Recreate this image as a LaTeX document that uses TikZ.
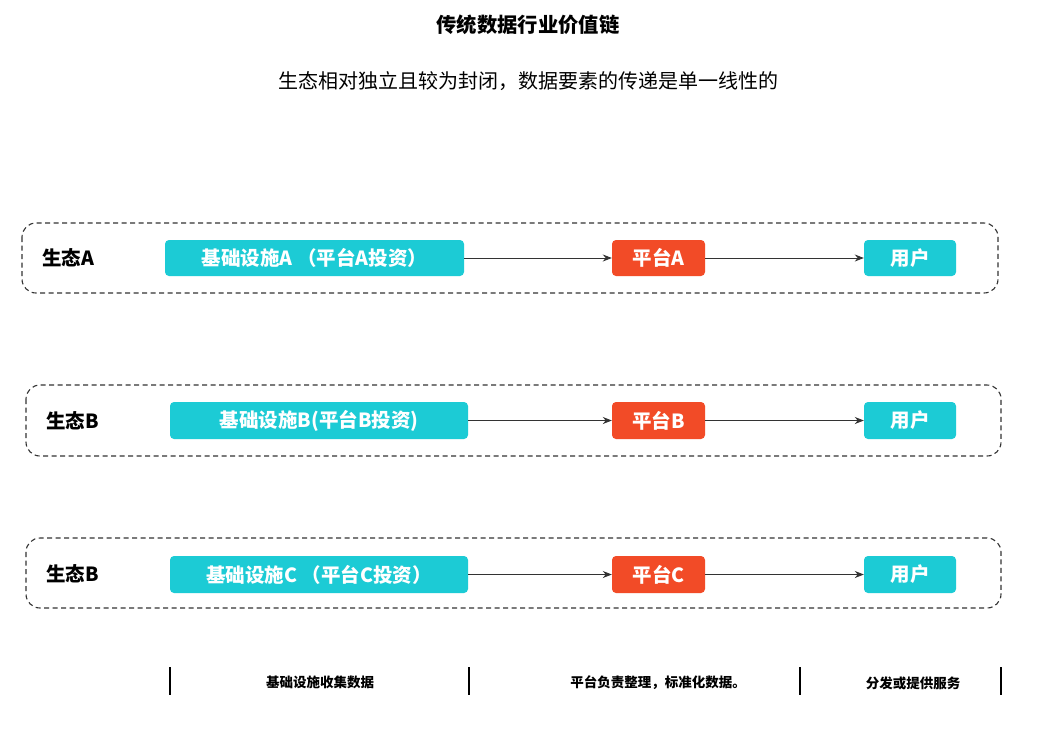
\documentclass[tikz,border=0pt]{standalone}
\usepackage{fontspec}
\setmainfont{Noto Sans CJK SC}
\usetikzlibrary{arrows.meta}
\definecolor{cyanbox}{HTML}{1CCBD5}
\definecolor{redbox}{HTML}{F24B27}
\definecolor{darkline}{HTML}{333333}
\tikzset{
  eco/.style={draw=darkline, dashed, dash pattern=on 5pt off 3.5pt, line width=1.1pt, rounded corners=14pt},
  infra/.style={fill=cyanbox, rounded corners=4pt, text=white, font=\fontsize{19.5}{22}\selectfont\bfseries, anchor=center, inner sep=0pt},
  plat/.style={fill=redbox, rounded corners=4pt, text=white, font=\fontsize{19.5}{22}\selectfont\bfseries, inner sep=0pt},
  ecolabel/.style={anchor=west, inner sep=0pt, font=\fontsize{19.5}{22}\selectfont\bfseries, text=black},
  flow/.style={draw=darkline, line width=0.9pt, -{Stealth[length=9pt,width=7pt]}},
  bar/.style={draw=black, line width=2pt},
  note/.style={font=\fontsize{13.5}{15}\selectfont\bfseries, text=black},
}
\begin{document}
\begin{tikzpicture}[x=1pt,y=-1pt]
\useasboundingbox (0,0) rectangle (1048,739);
\fill[white] (0,0) rectangle (1048,739);

\node[font=\fontsize{20.3}{23}\selectfont\bfseries] (title) at (528,25) {传统数据行业价值链};
\node[font=\fontsize{20}{23}\selectfont] (subtitle) at (528,81) {生态相对独立且较为封闭，数据要素的传递是单一线性的};

% Row A
\draw[eco] (22,223) rectangle (998,293);
\node[ecolabel] (la) at (42,258) {生态A};
\node[infra, minimum width=299pt, minimum height=36pt] (ia) at (314.5,258) {基础设施A （平台A投资）};
\node[plat, minimum width=93pt, minimum height=36pt] (pa) at (658.5,258) {平台A};
\node[infra, minimum width=92pt, minimum height=36pt] (ua) at (910,258) {用户};
\draw[flow] (ia) -- (pa);
\draw[flow] (pa) -- (ua);

% Row B
\draw[eco] (26,385) rectangle (1001,456);
\node[ecolabel] (lb) at (46,420.5) {生态B};
\node[infra, minimum width=298pt, minimum height=37pt] (ib) at (319,420.5) {基础设施B(平台B投资)};
\node[plat, minimum width=93pt, minimum height=37pt] (pb) at (658.5,420.5) {平台B};
\node[infra, minimum width=92pt, minimum height=37pt] (ub) at (910,420.5) {用户};
\draw[flow] (ib) -- (pb);
\draw[flow] (pb) -- (ub);

% Row C
\draw[eco] (26,538) rectangle (1001,608);
\node[ecolabel] (lc) at (46,574) {生态B};
\node[infra, minimum width=298pt, minimum height=37pt] (ic) at (319,574.5) {基础设施C （平台C投资）};
\node[plat, minimum width=93pt, minimum height=37pt] (pc) at (658.5,574.5) {平台C};
\node[infra, minimum width=92pt, minimum height=37pt] (uc) at (910,574.5) {用户};
\draw[flow] (ic) -- (pc);
\draw[flow] (pc) -- (uc);

% Bottom legend
\coordinate (b1t) at (170,667); \coordinate (b1b) at (170,695);
\coordinate (b2t) at (469,667); \coordinate (b2b) at (469,695);
\coordinate (b3t) at (800,667); \coordinate (b3b) at (800,695);
\coordinate (b4t) at (1001,667); \coordinate (b4b) at (1001,695);
\draw[bar] (b1t) -- (b1b);
\draw[bar] (b2t) -- (b2b);
\draw[bar] (b3t) -- (b3b);
\draw[bar] (b4t) -- (b4b);
\node[note] (n1) at (320,682) {基础设施收集数据};
\node[note] (n2) at (658,683) {平台负责整理，标准化数据。};
\node[note] (n3) at (913,683) {分发或提供服务};
\end{tikzpicture}
\end{document}
